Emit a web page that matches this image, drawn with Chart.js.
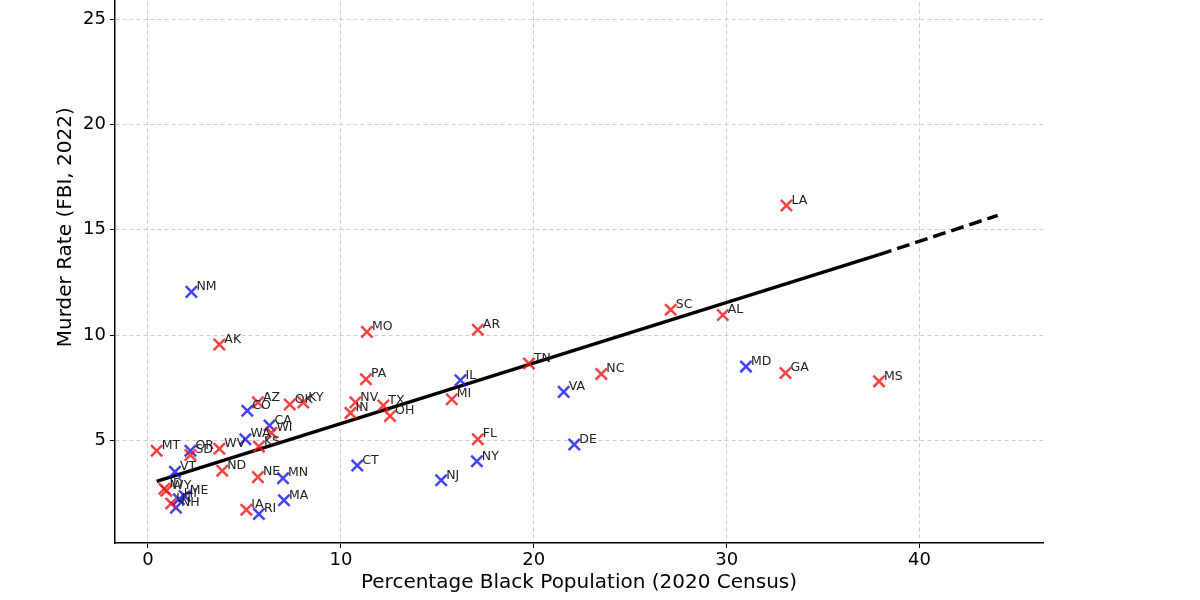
<!DOCTYPE html>
<html>
<head>
<meta charset="utf-8">
<script src="https://cdn.jsdelivr.net/npm/chart.js@4"></script>
<style>
    html, body { margin: 0; padding: 0; background: #fff; overflow: hidden; }
    #wrap { position: absolute; left: 0; top: -99px; width: 1200px; height: 699px; }
</style>
</head>
<body>
<div id="wrap"><canvas id="murderChart" width="1200" height="699"></canvas></div>
<script>
// red states
const redStates = ['LA', 'AK', 'MO', 'AR', 'SC', 'AL', 'TN', 'GA', 'MS', 'NC', 'MI', 'FL', 'PA', 'NV', 'IN', 'TX', 'OH',
    'AZ', 'OK', 'KY', 'WI', 'KS', 'WV', 'MT', 'SD', 'ND', 'NE', 'IA', 'ID', 'WY', 'UT'];
const redX = [33.1, 3.7, 11.35, 17.1, 27.1, 29.8, 19.75, 33.05, 37.9, 23.5, 15.75, 17.1, 11.3, 10.75, 10.5, 12.2, 12.55,
    5.7, 7.35, 8.05, 6.4, 5.75, 3.7, 0.45, 2.2, 3.85, 5.7, 5.1, 0.85, 0.95, 1.2];
const redY = [16.15, 9.55, 10.15, 10.25, 11.2, 10.95, 8.65, 8.2, 7.8, 8.15, 6.95, 5.05, 7.9, 6.8, 6.3, 6.65, 6.15,
    6.8, 6.7, 6.8, 5.35, 4.7, 4.6, 4.5, 4.3, 3.55, 3.25, 1.7, 2.7, 2.6, 2.0];

// blue states
const blueStates = ['NM', 'MD', 'VA', 'DE', 'IL', 'NY', 'NJ', 'CT', 'CO', 'CA', 'WA', 'OR', 'MN', 'MA', 'RI', 'VT', 'HI', 'ME', 'NH'];
const blueX = [2.25, 31.0, 21.55, 22.1, 16.2, 17.05, 15.2, 10.85, 5.15, 6.3, 5.05, 2.2, 7.0, 7.05, 5.75, 1.4, 1.6, 1.9, 1.45];
const blueY = [12.05, 8.5, 7.3, 4.8, 7.85, 4.0, 3.1, 3.8, 6.4, 5.7, 5.05, 4.5, 3.2, 2.15, 1.5, 3.5, 2.2, 2.35, 1.8];

// fitted trend line: solid over the data, dashed beyond
const fitSolid = [{x: 0.45, y: 3.05}, {x: 37.9, y: 13.82}];
const fitDashed = [{x: 37.9, y: 13.82}, {x: 44.05, y: 15.68}];

const xTicks = [0, 10, 20, 30, 40];
const yTicks = [5, 10, 15, 20, 25];

Chart.defaults.font.family = "'DejaVu Sans', sans-serif";
Chart.defaults.color = '#000';

function toPoints(xs, ys) {
    return xs.map((x, i) => ({x: x, y: ys[i]}));
}

const stateLabels = {
    id: 'stateLabels',
    afterDatasetsDraw(chart) {
        const ctx = chart.ctx;
        const xs = chart.scales.x;
        const ys = chart.scales.y;
        ctx.save();
        ctx.font = "12.5px 'DejaVu Sans'";
        ctx.fillStyle = '#222';
        ctx.textAlign = 'left';
        ctx.textBaseline = 'middle';
        const draw = (names, vx, vy) => {
            names.forEach((n, i) => {
                ctx.fillText(n, xs.getPixelForValue(vx[i]) + 5, ys.getPixelForValue(vy[i]) - 5);
            });
        };
        draw(redStates, redX, redY);
        draw(blueStates, blueX, blueY);
        ctx.restore();
    }
};

const ctx = document.getElementById('murderChart').getContext('2d');
new Chart(ctx, {
    type: 'scatter',
    data: {
        datasets: [
            {
                label: 'Red',
                data: toPoints(redX, redY),
                pointStyle: 'crossRot',
                pointRadius: 8,
                pointBorderWidth: 2.5,
                borderColor: 'rgba(240, 20, 20, 0.8)',
                backgroundColor: 'rgba(240, 20, 20, 0.8)'
            },
            {
                label: 'Blue',
                data: toPoints(blueX, blueY),
                pointStyle: 'crossRot',
                pointRadius: 8,
                pointBorderWidth: 2.5,
                borderColor: 'rgba(20, 20, 240, 0.8)',
                backgroundColor: 'rgba(20, 20, 240, 0.8)'
            },
            {
                type: 'line',
                label: 'Fit',
                data: fitSolid,
                borderColor: '#000',
                borderWidth: 3.5,
                pointRadius: 0,
                fill: false
            },
            {
                type: 'line',
                label: 'Fit extended',
                data: fitDashed,
                borderColor: '#000',
                borderWidth: 3.5,
                borderDash: [13, 6],
                pointRadius: 0,
                fill: false
            }
        ]
    },
    options: {
        responsive: false,
        animation: false,
        devicePixelRatio: 1,
        layout: { padding: { top: 0, right: 157, bottom: 0, left: 0 } },
        plugins: {
            legend: { display: false },
            tooltip: { enabled: false }
        },
        scales: {
            x: {
                type: 'linear',
                min: -1.71,
                max: 46.4,
                afterBuildTicks: (axis) => { axis.ticks = xTicks.map(v => ({value: v})); },
                afterFit: (axis) => { axis.height = 57; axis.paddingLeft = 0; axis.paddingRight = 0; },
                ticks: { font: { size: 18 }, color: '#000', padding: 2 },
                grid: { color: '#cccccc', lineWidth: 1, tickColor: '#000', tickLength: 5, tickWidth: 1 },
                border: { display: true, color: '#000', width: 1.5, dash: [4, 3] },
                title: {
                    display: true,
                    text: 'Percentage Black Population (2020 Census)',
                    font: { size: 20 },
                    color: '#000',
                    padding: { top: 0, bottom: 5 }
                }
            },
            y: {
                type: 'linear',
                min: 0.12,
                max: 30.12,
                afterBuildTicks: (axis) => { axis.ticks = yTicks.map(v => ({value: v})); },
                afterFit: (axis) => { axis.width = 115; axis.paddingTop = 0; axis.paddingBottom = 0; },
                ticks: { font: { size: 18 }, color: '#000', padding: 4 },
                grid: { color: '#cccccc', lineWidth: 1, tickColor: '#000', tickLength: 5, tickWidth: 1 },
                border: { display: true, color: '#000', width: 1.5, dash: [4, 3] },
                title: {
                    display: true,
                    text: 'Murder Rate (FBI, 2022)',
                    font: { size: 20 },
                    color: '#000',
                    padding: { top: 54, bottom: 0 }
                }
            }
        }
    },
    plugins: [stateLabels]
});
</script>
</body>
</html>
